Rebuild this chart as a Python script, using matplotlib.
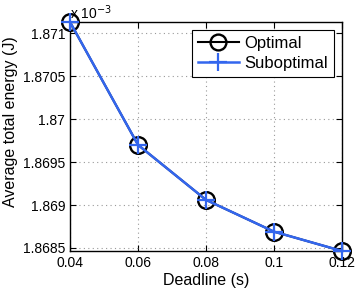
import matplotlib
matplotlib.use("Agg")
import matplotlib.pyplot as plt

# Data (energy in units of 1e-3 J)
deadline = [0.04, 0.06, 0.08, 0.1, 0.12]
optimal = [1.87113, 1.86970, 1.86906, 1.86869, 1.868465]
suboptimal = [1.87113, 1.86970, 1.86906, 1.86869, 1.868465]

xticks = [0.04, 0.06, 0.08, 0.1, 0.12]
xtick_labels = ["0.04", "0.06", "0.08", "0.1", "0.12"]
yticks = [1.8685, 1.869, 1.8695, 1.87, 1.8705, 1.871]
ytick_labels = ["1.8685", "1.869", "1.8695", "1.87", "1.8705", "1.871"]

plt.rcParams['font.family'] = ['Liberation Sans', 'DejaVu Sans']
plt.rcParams['font.size'] = 10

fig = plt.figure(figsize=(3.56, 2.92), dpi=100)
ax = fig.add_axes([70 / 356, 41 / 292, 272 / 356, 229 / 292])

ax.plot(deadline, optimal, color='black', lw=1.5, marker='o', ms=12,
        mfc='none', mew=1.7, label='Optimal', clip_on=False, zorder=3)
ax.plot(deadline, suboptimal, color='#3366ee', lw=1.8, marker='+', ms=13,
        mew=1.6, label='Suboptimal', clip_on=False, zorder=4)

ax.set_xlim(0.04, 0.12)
ax.set_ylim(min(optimal), max(optimal))
ax.set_xticks(xticks)
ax.set_xticklabels(xtick_labels)
ax.set_yticks(yticks)
ax.set_yticklabels(ytick_labels)
ax.tick_params(direction='in', top=True, right=True, length=4, labelsize=10)
ax.grid(True, linestyle=(0, (1, 3)), color='#999999', linewidth=0.8)
for s in ax.spines.values():
    s.set_linewidth(1.0)

ax.set_xlabel('Deadline (s)', fontsize=11.5, labelpad=2)
ax.set_ylabel('Average total energy (J)', fontsize=11.5, labelpad=4)
ax.yaxis.set_label_coords(-0.19, 0.565)
ax.text(0.0, 1.0, r'x 10$^{-3}$', transform=ax.transAxes, fontsize=10,
        ha='left', va='bottom')

leg = ax.legend(loc='upper right', fancybox=False, edgecolor='black',
                framealpha=1, fontsize=12, handlelength=2.5,
                borderaxespad=0.5, borderpad=0.35, labelspacing=0.3,
                handletextpad=0.3, markerscale=0.95)
leg.get_frame().set_linewidth(0.8)

fig.savefig('out.png', dpi=100)
